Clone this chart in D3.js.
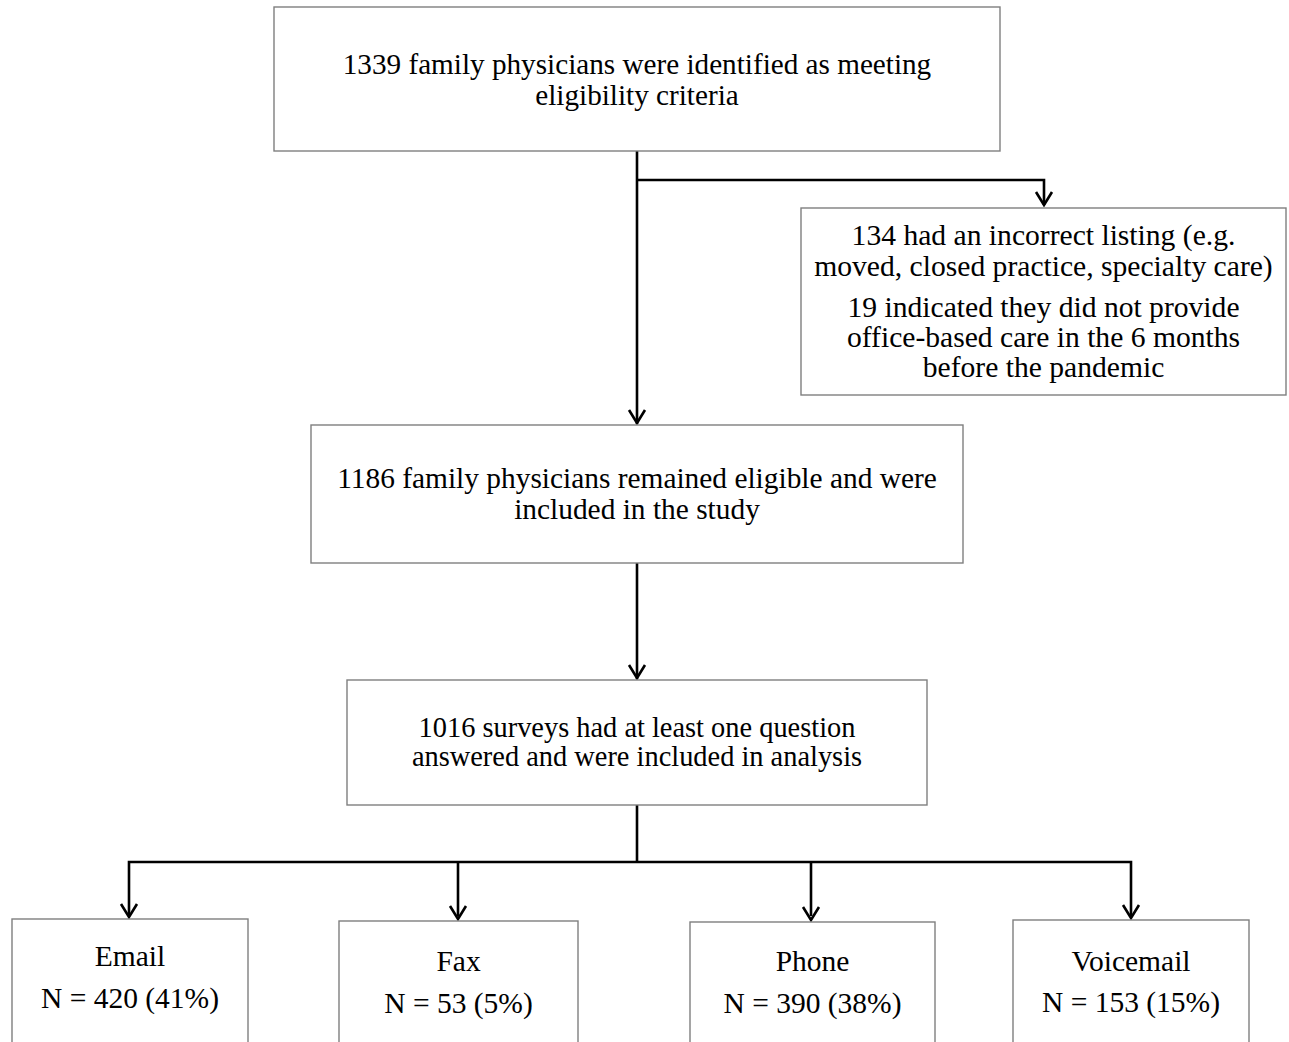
<!DOCTYPE html>
<html>
<head>
<meta charset="utf-8">
<script src="https://cdn.jsdelivr.net/npm/d3@7"></script>
<style>
  html, body { margin: 0; padding: 0; background: #fff; }
  svg { display: block; }
  text { font-family: "Liberation Serif", "Times New Roman", serif; fill: #000; }
</style>
</head>
<body>
<svg id="chart" width="1289" height="1042"></svg>
<script>
// ---- data ----
const topText = ["1339 family physicians were identified as meeting", "eligibility criteria"];
const excludedText = ["134 had an incorrect listing (e.g.", "moved, closed practice, specialty care)", "19 indicated they did not provide", "office-based care in the 6 months", "before the pandemic"];
const eligibleText = ["1186 family physicians remained eligible and were", "included in the study"];
const analysedText = ["1016 surveys had at least one question", "answered and were included in analysis"];
const channels = ["Email", "Fax", "Phone", "Voicemail"];
const channelCounts = [420, 53, 390, 153];
const channelPercents = [41, 5, 38, 15];

// ---- layout ----
const svg = d3.select("#chart");
const boxStroke = "#7f7f7f";
const lineW = 2.6;

function box(x, y, w, h) {
  svg.append("rect").attr("x", x).attr("y", y).attr("width", w).attr("height", h)
    .attr("fill", "#fff").attr("stroke", boxStroke).attr("stroke-width", 1.4);
}
function lines(cx, baselines, texts, fs) {
  svg.append("g").selectAll("text").data(texts).join("text")
    .attr("x", cx).attr("y", (d, i) => baselines[i])
    .attr("text-anchor", "middle").attr("font-size", fs).text(d => d);
}
const link = d3.line();
function path(points) {
  svg.append("path").attr("d", link(points)).attr("fill", "none")
    .attr("stroke", "#000").attr("stroke-width", lineW).attr("stroke-linejoin", "miter");
}
function arrowHead(x, yTip) {
  svg.append("path").attr("d", link([[x - 8, yTip - 13], [x, yTip], [x + 8, yTip - 13]]))
    .attr("fill", "none").attr("stroke", "#000").attr("stroke-width", lineW);
}

const cx = 637;

// connectors
path([[cx, 151], [cx, 424]]);
arrowHead(cx, 423);
path([[cx, 180], [1044, 180], [1044, 205]]);
arrowHead(1044, 205);
path([[cx, 563], [cx, 679]]);
arrowHead(cx, 678);
path([[cx, 805], [cx, 862]]);

const chX = [129, 458, 811, 1131];
const boxX = [12, 339, 690, 1013];
const boxW = [236, 239, 245, 236];
const boxY = [919, 921, 922, 920];
path([[chX[0], 916], [chX[0], 862], [chX[3], 862], [chX[3], 916]]);
chX.slice(1, 3).forEach(x => path([[x, 862], [x, 916]]));
chX.forEach((x, i) => arrowHead(x, boxY[i] - 2));

// boxes
box(274, 7, 726, 144);
lines(cx, [74, 105], topText, 29.2);

box(801, 208, 485, 187);
lines(1043.5, [245, 276, 317, 347, 377], excludedText, 29.6);

box(311, 425, 652, 138);
lines(cx, [488, 519], eligibleText, 29.4);

box(347, 680, 580, 125);
lines(cx, [737, 766], analysedText, 28.4);

const nameY = [966, 971, 971, 971];
const nY = [1008, 1013, 1013, 1012];
channels.forEach((c, i) => {
  box(boxX[i], boxY[i], boxW[i], 125);
  lines(boxX[i] + boxW[i] / 2, [nameY[i], nY[i]],
    [c, `N = ${channelCounts[i]} (${channelPercents[i]}%)`], 29.5);
});
</script>
</body>
</html>
